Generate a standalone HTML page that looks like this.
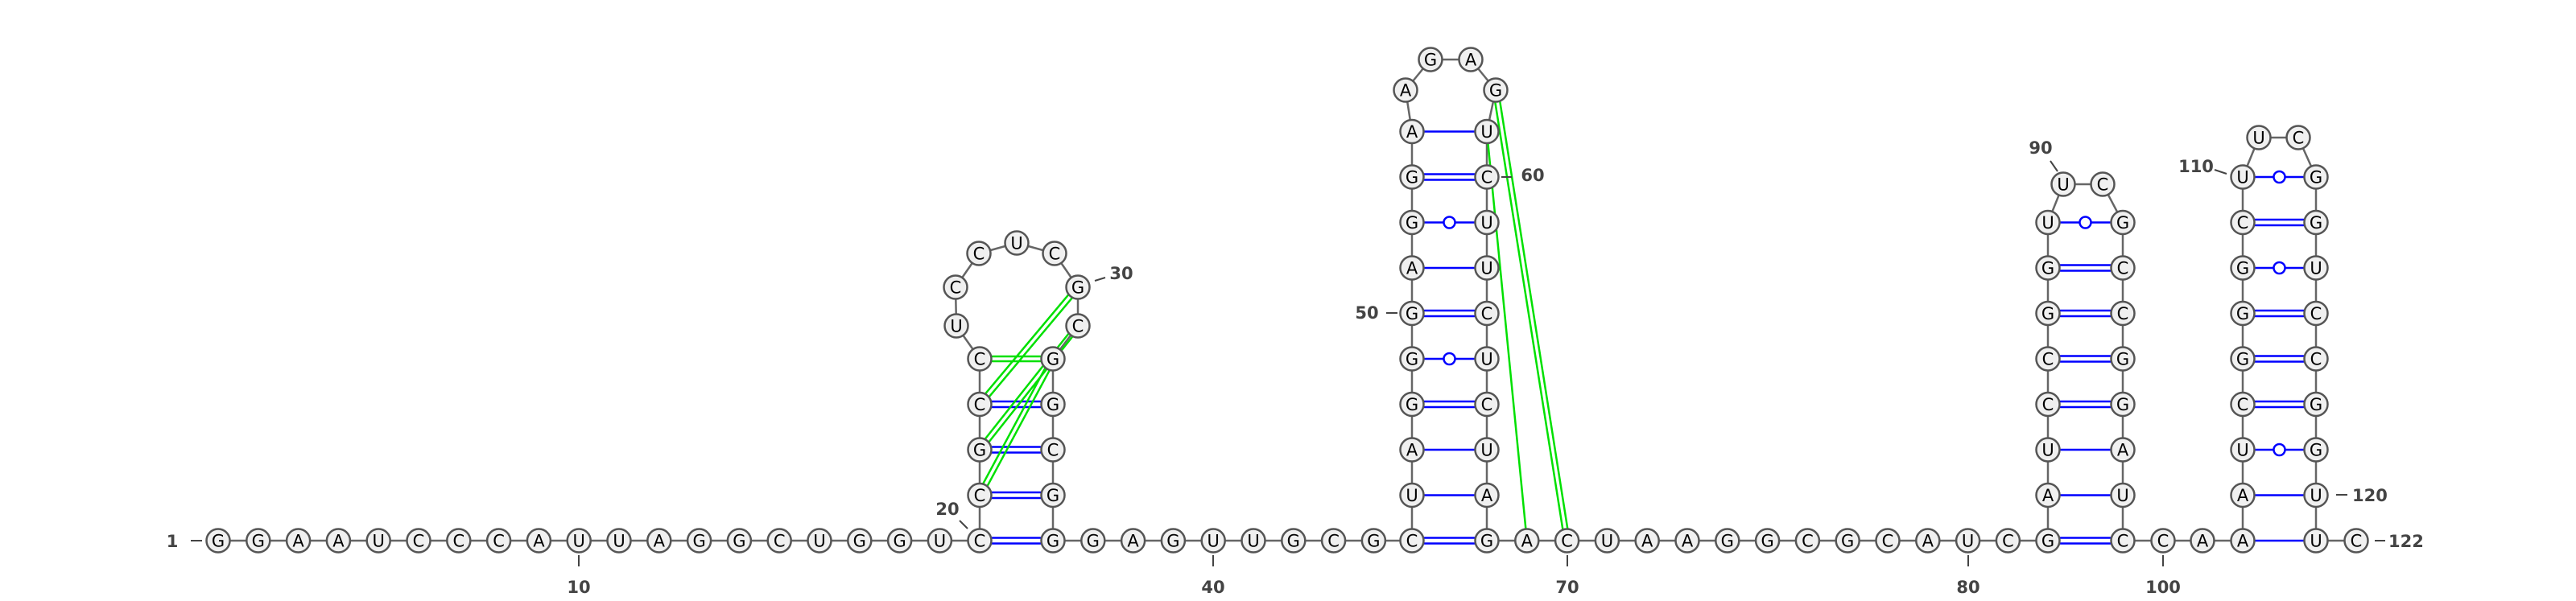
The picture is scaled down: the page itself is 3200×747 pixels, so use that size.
<!DOCTYPE html>
<html><head><meta charset="utf-8"><style>
html,body{margin:0;padding:0;background:#fff;}
svg{display:block;}
text{font-family:"DejaVu Sans","Liberation Sans",sans-serif;}
</style></head>
<body>
<svg id="chart" xmlns="http://www.w3.org/2000/svg" width="3200" height="747" viewBox="0 0 3200 747">
<rect width="3200" height="747" fill="#fff"/>
<g id="backbone"></g>
<g id="pairs"></g>
<g id="nts"></g>
<g id="labels"></g>
</svg>
<script>
// sequence (1-based)
const seq = "GGAAUCCCAUUAGGCUGGU" + "CCGCCUCCUCGCGGCGG" + "GAGUUGCG" + "CUAGGGAGGAAGAGUCUUCUCUAG" + "ACUAAGGCGCAUC" + "GAUCCGGUUCGCCGGAUC" + "CA" + "AAUCGGGCUUCGGUCCGGUUC";
// pairs: [i, j, type]  d=double(GC) s=single(AU) w=wobble(GU) g=green double, g1=green single
const pairI = [20,21,22,23,24, 45,46,47,48,49,50,51,52,53,54, 82,83,84,85,86,87,88,89, 102,103,104,105,106,107,108,109,110, 30,31,32, 58,59];
const pairJ = [36,35,34,33,32, 68,67,66,65,64,63,62,61,60,59, 99,98,97,96,95,94,93,92, 121,120,119,118,117,116,115,114,113, 23,22,21, 70,69];
const pairT = ["d","d","d","d","g", "d","s","s","d","w","d","s","w","d","s", "d","s","s","d","d","d","d","w", "s","s","w","d","d","d","w","d","w", "g","g","g", "g","g1"];
const tickLabels = [1,10,20,30,40,50,60,70,80,90,100,110,120,122];

// ---- layout ----
const N = seq.length, BASE = 672, STEP = 49.8, ROW = 56.5;
const P = [];
function set(i,x,y){P[i]={x:x,y:y};}
for(let i=1;i<=20;i++) set(i, 271+(i-1)*STEP, BASE);
// stem 1
for(let k=0;k<5;k++){ set(20+k, 1217, BASE-k*ROW); set(36-k, 1308, BASE-k*ROW); }
const loop1=[[1188,405],[1187,357],[1216,315],[1263,302],[1310,315],[1339,357],[1339,405]];
loop1.forEach((p,k)=>set(25+k,p[0],p[1]));
for(let i=37;i<=45;i++) set(i, 1308+(i-36)*STEP, BASE);
for(let k=0;k<10;k++){ set(45+k, 1754, BASE-k*ROW); set(68-k, 1847, BASE-k*ROW); }
const loop2=[[1746,112],[1777,74],[1827,74],[1858,112]];
loop2.forEach((p,k)=>set(55+k,p[0],p[1]));
for(let i=69;i<=82;i++) set(i, 1847+(i-68)*STEP, BASE);
for(let k=0;k<8;k++){ set(82+k, 2544, BASE-k*ROW); set(99-k, 2637, BASE-k*ROW); }
set(90,2563,229); set(91,2612,229);
set(100,2687,BASE); set(101,2736,BASE);
for(let k=0;k<9;k++){ set(102+k, 2786, BASE-k*ROW); set(121-k, 2877, BASE-k*ROW); }
set(111,2806,171); set(112,2855,171);
set(122,2927,BASE);

const NS="http://www.w3.org/2000/svg";
function mk(tag,attrs,parent){const e=document.createElementNS(NS,tag);for(const k in attrs)e.setAttribute(k,attrs[k]);parent.appendChild(e);return e;}
const gB=document.getElementById('backbone'), gP=document.getElementById('pairs'), gN=document.getElementById('nts'), gL=document.getElementById('labels');

for(let i=1;i<N;i++){
  const l=mk('line',{x1:P[i].x,y1:P[i].y,x2:P[i+1].x,y2:P[i+1].y,stroke:'#666','stroke-width':2.5},gB);
  
  
}
function par(a,b,off,col,w){
  const dx=b.x-a.x, dy=b.y-a.y, L=Math.hypot(dx,dy), nx=-dy/L*off, ny=dx/L*off;
  return mk('line',{x1:a.x+nx,y1:a.y+ny,x2:b.x+nx,y2:b.y+ny,stroke:col,'stroke-width':w},gP);
}
pairI.forEach((i,k)=>{
  const a=P[i], b=P[pairJ[k]], t=pairT[k];
  const g=mk('g',{},gP);
  
  
  let lines=[];
  if(t==='d'){lines=[par(a,b,3.5,'#0000ff',2.5),par(a,b,-3.5,'#0000ff',2.5)];}
  else if(t==='s'){lines=[par(a,b,0,'#0000ff',2.5)];}
  else if(t==='w'){lines=[par(a,b,0,'#0000ff',2.5)];
    const c=mk('circle',{cx:(a.x+b.x)/2,cy:(a.y+b.y)/2,r:7,fill:'#fff',stroke:'#0000ff','stroke-width':2.5},g);}
  else if(t==='g'){lines=[par(a,b,3,'#00e000',2.5),par(a,b,-3,'#00e000',2.5)];}
  else {lines=[par(a,b,0,'#00e000',2.5)];}
  lines.forEach(l=>g.insertBefore(l,g.firstChild));
});
for(let i=1;i<=N;i++){
  const g=mk('g',{},gN);
  
  
  mk('circle',{cx:P[i].x,cy:P[i].y,r:14.5,fill:'#f0f0f0',stroke:'#555','stroke-width':2.5},g);
  const t=mk('text',{x:P[i].x,y:P[i].y+7.5,'text-anchor':'middle','font-size':21,fill:'#000'},g);
  t.textContent=seq[i-1];
}
// label placement: [textX,textY,anchor,tick x1,y1,x2,y2]
const labelPos={
 1:[214,680,'middle',237,672,251,672],
 10:[719,737,'middle',719,690,719,704],
 20:[1177,640,'middle',1192,647,1202,657],
 30:[1393,347,'middle',1360,349,1373,345],
 40:[1507,737,'middle',1507,690,1507,704],
 50:[1698,396,'middle',1722,389,1736,389],
 60:[1904,225,'middle',1865,220,1878,220],
 70:[1947,737,'middle',1947,690,1947,704],
 80:[2445,737,'middle',2445,690,2445,704],
 90:[2535,191,'middle',2547,200,2556,213],
 100:[2687,737,'middle',2687,690,2687,704],
 110:[2728,214,'middle',2751,211,2766,216],
 120:[2922,623,'start',2902,615,2916,615],
 122:[2967,680,'start',2950,672,2963,672]
};
tickLabels.forEach(n=>{
  const p=labelPos[n]; const g=mk('g',{},gL);
  
  
  mk('line',{x1:p[3],y1:p[4],x2:p[5],y2:p[6],stroke:'#444','stroke-width':2},g);
  const t=mk('text',{x:p[0],y:p[1],'text-anchor':p[2],'font-size':21,'font-weight':'bold',fill:'#444'},g);
  t.textContent=n;
});
</script>
</body></html>
